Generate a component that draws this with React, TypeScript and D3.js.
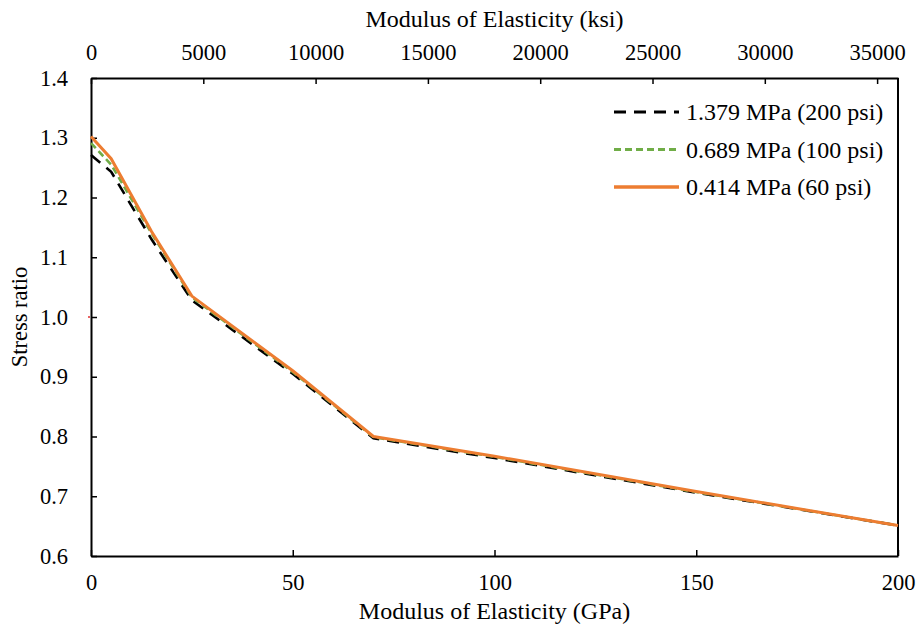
import { axisBottom, axisLeft, axisTop, line, scaleLinear, select } from "d3";
import { useEffect, useRef } from "react";

// modulus in GPa
const modulus = [0, 5, 15, 25, 50, 70, 100, 150, 200];
const ratio200psi = [1.271, 1.243, 1.13, 1.028, 0.905, 0.797, 0.764, 0.706, 0.651];
const ratio100psi = [1.291, 1.255, 1.14, 1.033, 0.908, 0.799, 0.766, 0.707, 0.651];
const ratio60psi = [1.302, 1.265, 1.143, 1.035, 0.91, 0.8, 0.767, 0.708, 0.651];

const gpaTicks = [0, 50, 100, 150, 200];
const ksiTicks = [0, 5000, 10000, 15000, 20000, 25000, 30000, 35000];
const ratioTicks = [0.6, 0.7, 0.8, 0.9, 1.0, 1.1, 1.2, 1.3, 1.4];

const seriesNames = ["1.379 MPa (200 psi)", "0.689 MPa (100 psi)", "0.414 MPa (60 psi)"];

const FONT = "'Liberation Serif', 'Times New Roman', serif";

function App() {
  const w = 919;
  const h = 634;
  const left = 91;
  const right = 898;
  const top = 78;
  const bottom = 556;
  const svgRef = useRef(null);

  useEffect(() => {
    if (!svgRef.current) return;
    const svg = select(svgRef.current);
    svg.selectAll("*").remove();

    const x = scaleLinear().domain([0, 200]).range([left, right]);
    const xTop = scaleLinear().domain([0, 35930]).range([left, right]);
    const y = scaleLinear().domain([0.6, 1.4]).range([bottom, top]);

    const styleAxis = (g) => {
      g.select(".domain").attr("stroke", "#000").attr("stroke-width", 2);
      g.selectAll(".tick line").attr("stroke", "#000").attr("stroke-width", 1.5);
      g.selectAll("text").attr("font-family", FONT).attr("font-size", 22.5).attr("fill", "#000");
    };

    svg
      .append("g")
      .attr("transform", `translate(0,${bottom})`)
      .call(axisBottom(x).tickValues(gpaTicks).tickSizeInner(-6).tickSizeOuter(0).tickPadding(18))
      .call(styleAxis);

    svg
      .append("g")
      .attr("transform", `translate(0,${top})`)
      .call(
        axisTop(xTop)
          .tickValues(ksiTicks)
          .tickFormat((d) => String(d))
          .tickSizeInner(-6)
          .tickSizeOuter(0)
          .tickPadding(18)
      )
      .call(styleAxis);

    svg
      .append("g")
      .attr("transform", `translate(${left},0)`)
      .call(
        axisLeft(y)
          .tickValues(ratioTicks)
          .tickFormat((d) => d.toFixed(1))
          .tickSizeInner(-6)
          .tickSizeOuter(0)
          .tickPadding(23)
      )
      .call(styleAxis);

    // right border
    svg
      .append("line")
      .attr("x1", right)
      .attr("x2", right)
      .attr("y1", top)
      .attr("y2", bottom)
      .attr("stroke", "#000")
      .attr("stroke-width", 2);

    // small red mark at 1.0
    svg
      .append("line")
      .attr("x1", left - 3)
      .attr("x2", left - 1)
      .attr("y1", y(1.0))
      .attr("y2", y(1.0))
      .attr("stroke", "#e03030")
      .attr("stroke-width", 1.5);

    const series = [
      { name: seriesNames[0], values: ratio200psi, color: "#000000", dash: "12,8", width: 2.6 },
      { name: seriesNames[1], values: ratio100psi, color: "#70ad47", dash: "7,4", width: 2.6 },
      { name: seriesNames[2], values: ratio60psi, color: "#ed7d31", dash: null, width: 3 },
    ];

    const lineGen = line()
      .x((d) => x(d[0]))
      .y((d) => y(d[1]));

    series.forEach((s) => {
      svg
        .append("path")
        .attr("d", lineGen(modulus.map((m, i) => [m, s.values[i]])))
        .attr("fill", "none")
        .attr("stroke", s.color)
        .attr("stroke-width", s.width)
        .attr("stroke-dasharray", s.dash);
    });

    // legend
    const legend = svg.append("g");
    series.forEach((s, i) => {
      const ly = 112 + i * 37.5;
      legend
        .append("line")
        .attr("x1", 614)
        .attr("x2", 679)
        .attr("y1", ly)
        .attr("y2", ly)
        .attr("stroke", s.color)
        .attr("stroke-width", s.width + 0.4)
        .attr("stroke-dasharray", s.dash);
      legend
        .append("text")
        .attr("x", 686)
        .attr("y", ly)
        .attr("dy", "0.35em")
        .attr("font-family", FONT)
        .attr("font-size", 24)
        .text(s.name);
    });

    // axis titles
    svg
      .append("text")
      .attr("x", (left + right) / 2)
      .attr("y", 619)
      .attr("text-anchor", "middle")
      .attr("font-family", FONT)
      .attr("font-size", 24)
      .text("Modulus of Elasticity (GPa)");

    svg
      .append("text")
      .attr("x", (left + right) / 2)
      .attr("y", 27)
      .attr("text-anchor", "middle")
      .attr("font-family", FONT)
      .attr("font-size", 24)
      .text("Modulus of Elasticity (ksi)");

    svg
      .append("text")
      .attr("transform", `translate(27,${(top + bottom) / 2}) rotate(-90)`)
      .attr("text-anchor", "middle")
      .attr("font-family", FONT)
      .attr("font-size", 22.5)
      .text("Stress ratio");
  }, [svgRef]);

  return (
    <div style={{ position: "absolute", left: 0, top: 0 }}>
      <svg ref={svgRef} width={w} height={h} style={{ display: "block", background: "#fff" }}></svg>
    </div>
  );
}

export default App;
